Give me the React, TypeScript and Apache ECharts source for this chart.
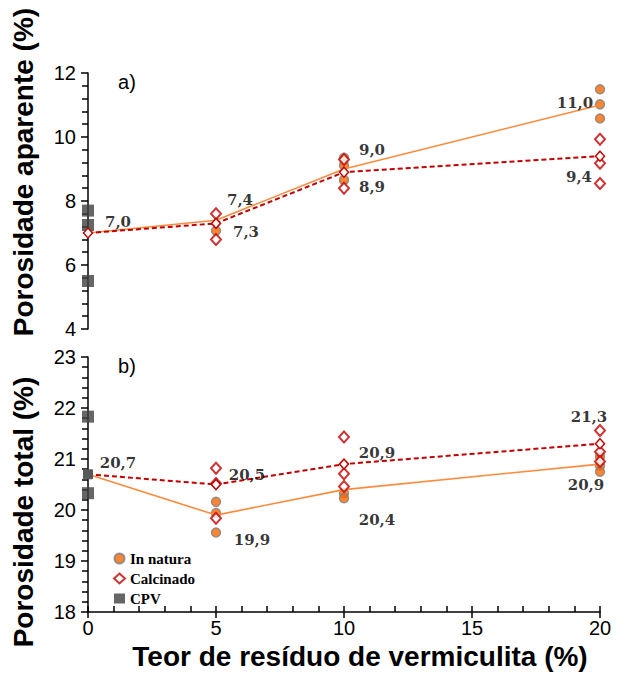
import React, { useEffect, useRef } from "react";
import * as echarts from "echarts";

// ---- Data ----
const xTicks = [0, 5, 10, 15, 20];
const meanX = [0, 5, 10, 20];

// Panel a) Porosidade aparente (%)
const topNaturaMean = [7.0, 7.4, 9.0, 11.0];
const topCalcMean = [7.0, 7.3, 8.9, 9.4];
const topNaturaPts: number[][] = [
  [5, 7.07], [10, 9.35], [10, 9.12], [10, 8.66], [20, 11.49], [20, 11.02], [20, 10.58],
];
const topCalcPts: number[][] = [
  [5, 7.6], [5, 6.8], [10, 9.3], [10, 8.4], [20, 9.93], [20, 9.18], [20, 8.55],
];
const topCpvPts: number[][] = [[0, 7.7], [0, 7.25], [0, 5.5]];

// Panel b) Porosidade total (%)
const botNaturaMean = [20.7, 19.9, 20.4, 20.9];
const botCalcMean = [20.7, 20.5, 20.9, 21.3];
const botNaturaPts: number[][] = [
  [5, 20.16], [5, 19.94], [5, 19.56], [10, 20.33], [10, 20.23], [20, 21.05], [20, 20.87], [20, 20.75],
];
const botCalcPts: number[][] = [
  [5, 20.82], [5, 20.52], [5, 19.84], [10, 21.43], [10, 20.71], [10, 20.46],
  [20, 21.56], [20, 21.14], [20, 20.95],
];
const botCpvPts: number[][] = [[0, 21.83], [0, 20.33]];

const legendNames = ["In natura", "Calcinado", "CPV"];

// label offsets (pixels) – styling only
const topNaturaOff: (number[] | null)[] = [[30, -11], [24, -20], [28, -19], [-25, -2]];
const topCalcOff: (number[] | null)[] = [null, [30, 9], [28, 15], [-21, 21]];
const botNaturaOff: (number[] | null)[] = [[30, -11], [36, 25], [33, 30], [-14, 21]];
const botCalcOff: (number[] | null)[] = [null, [31, -10], [33, -11], [-11, -27]];

const fmt = (v: number) => v.toFixed(1).replace(".", ",");

const ORANGE = "#FF6600";
const ORANGE_LINE = "#FF8A3D";
const RED = "#C00000";
const DARK = "#404040";
const AXIS_FONT = "'Liberation Sans', Arial, sans-serif";

function labelData(means: number[], offs: (number[] | null)[]) {
  const out: any[] = [];
  means.forEach((v, i) => {
    const o = offs[i];
    if (!o) return;
    out.push({
      value: [meanX[i], v],
      label: {
        show: true,
        position: "inside",
        offset: o,
        formatter: fmt(v),
        fontFamily: "'DejaVu Serif', serif",
        fontWeight: "bold",
        fontSize: 15,
        color: "#000",
      },
    });
  });
  return out;
}

function panelSeries(
  idx: number,
  naturaPts: number[][],
  calcPts: number[][],
  cpvPts: number[][],
  naturaMean: number[],
  calcMean: number[],
  naturaOff: (number[] | null)[],
  calcOff: (number[] | null)[],
  firstCalcSymbol: any
) {
  const axes = { xAxisIndex: idx, yAxisIndex: idx };
  const calcLineData: any[] = meanX.map((x, i) => [x, calcMean[i]]);
  if (firstCalcSymbol) calcLineData[0] = { value: calcLineData[0], ...firstCalcSymbol };
  return [
    {
      ...axes,
      name: "In natura",
      type: "scatter",
      symbol: "circle",
      symbolSize: 9,
      itemStyle: { color: ORANGE, borderColor: "#7F7F7F", borderWidth: 1.5 },
      data: naturaPts,
      z: 2,
    },
    {
      ...axes,
      name: "CPV",
      type: "scatter",
      symbol: "rect",
      symbolSize: 12,
      itemStyle: { color: DARK },
      data: cpvPts,
      z: 2,
    },
    {
      ...axes,
      name: "In natura (média)",
      type: "line",
      showSymbol: false,
      symbol: "none",
      lineStyle: { color: ORANGE_LINE, width: 1.6 },
      data: meanX.map((x, i) => [x, naturaMean[i]]),
      z: 3,
    },
    {
      ...axes,
      name: "Calcinado",
      type: "scatter",
      symbol: "diamond",
      symbolSize: [10, 11],
      itemStyle: { color: "#FFFFFF", borderColor: RED, borderWidth: 2 },
      data: calcPts,
      z: 4,
    },
    {
      ...axes,
      name: "Calcinado (média)",
      type: "line",
      symbol: "diamond",
      symbolSize: [9, 10],
      itemStyle: { color: "#FFFFFF", borderColor: RED, borderWidth: 1.5 },
      lineStyle: { color: RED, width: 2, type: [5, 3] },
      data: calcLineData,
      z: 5,
    },
    {
      ...axes,
      name: "rótulos",
      type: "scatter",
      symbolSize: 1,
      silent: true,
      itemStyle: { color: "transparent" },
      data: [...labelData(naturaMean, naturaOff), ...labelData(calcMean, calcOff)],
      z: 10,
    },
  ];
}

export default function App() {
  const ref = useRef<HTMLDivElement>(null);
  useEffect(() => {
    if (!ref.current) return;
    const chart = echarts.init(ref.current, undefined, { renderer: "svg" });
    const axisLine = { show: true, lineStyle: { color: "#000", width: 1.5 } };
    const tick = { show: true, length: 7, inside: false, lineStyle: { color: "#000", width: 1.5 } };
    const minor = { show: true, splitNumber: 5, length: 6, lineStyle: { color: "#000", width: 1.5 } };
    const lbl = { fontSize: 20, color: "#000", fontFamily: AXIS_FONT };
    chart.setOption({
      animation: false,
      backgroundColor: "#FFFFFF",
      grid: [
        { left: 88, top: 73, width: 512, height: 256 },
        { left: 88, top: 357, width: 512, height: 255 },
      ],
      xAxis: [
        { gridIndex: 0, type: "value", min: 0, max: 20, interval: 5, show: false },
        {
          gridIndex: 1,
          type: "value",
          min: 0,
          max: 20,
          interval: 5,
          position: "bottom",
          axisLine,
          axisTick: { ...tick, length: 6 },
          axisLabel: { ...lbl, margin: 6, formatter: (v: number) => (xTicks.includes(v) ? String(v) : "") },
          splitLine: { show: false },
        },
        {
          gridIndex: 1,
          type: "value",
          min: 0,
          max: 20,
          interval: 1,
          position: "bottom",
          axisLine: { show: false },
          axisTick: { show: true, inside: true, length: 6, lineStyle: { color: "#000", width: 1.5 } },
          axisLabel: { show: false },
          splitLine: { show: false },
        },
      ],
      yAxis: [
        {
          gridIndex: 0,
          type: "value",
          min: 4,
          max: 12,
          interval: 2,
          axisLine,
          axisTick: tick,
          minorTick: minor,
          axisLabel: { ...lbl, margin: 12 },
          splitLine: { show: false },
          minorSplitLine: { show: false },
        },
        {
          gridIndex: 1,
          type: "value",
          min: 18,
          max: 23,
          interval: 1,
          axisLine,
          axisTick: tick,
          minorTick: minor,
          axisLabel: { ...lbl, margin: 12 },
          splitLine: { show: false },
          minorSplitLine: { show: false },
        },
      ],
      legend: {
        data: legendNames,
        orient: "vertical",
        left: 108,
        top: 546,
        itemWidth: 11,
        itemHeight: 10,
        itemGap: 5,
        selectedMode: false,
        textStyle: {
          fontFamily: "'Liberation Serif', 'Times New Roman', serif",
          fontWeight: "bold",
          fontSize: 15,
          color: "#000",
        },
      },
      graphic: [
        {
          type: "text",
          x: 127,
          y: 82,
          style: { text: "a)", fontSize: 20, fontFamily: AXIS_FONT, fill: "#000", align: "center", verticalAlign: "middle" },
        },
        {
          type: "text",
          x: 127,
          y: 366,
          style: { text: "b)", fontSize: 20, fontFamily: AXIS_FONT, fill: "#000", align: "center", verticalAlign: "middle" },
        },
        {
          type: "text",
          x: 23,
          y: 172,
          rotation: Math.PI / 2,
          style: {
            text: "Porosidade aparente (%)",
            fontSize: 28,
            fontWeight: "bold",
            fontFamily: AXIS_FONT,
            fill: "#000",
            align: "center",
            verticalAlign: "middle",
          },
        },
        {
          type: "text",
          x: 23,
          y: 512,
          rotation: Math.PI / 2,
          style: {
            text: "Porosidade total (%)",
            fontSize: 28,
            fontWeight: "bold",
            fontFamily: AXIS_FONT,
            fill: "#000",
            align: "center",
            verticalAlign: "middle",
          },
        },
        {
          type: "text",
          x: 360,
          y: 656,
          style: {
            text: "Teor de resíduo de vermiculita (%)",
            fontSize: 28,
            fontWeight: "bold",
            fontFamily: AXIS_FONT,
            fill: "#000",
            align: "center",
            verticalAlign: "middle",
          },
        },
      ],
      series: [
        ...panelSeries(0, topNaturaPts, topCalcPts, topCpvPts, topNaturaMean, topCalcMean, topNaturaOff, topCalcOff, null),
        ...panelSeries(1, botNaturaPts, botCalcPts, botCpvPts, botNaturaMean, botCalcMean, botNaturaOff, botCalcOff, {
          symbol: "rect",
          symbolSize: 9,
          itemStyle: { color: "#595959", borderColor: "#595959", borderWidth: 1 },
        }),
      ],
    });
    return () => chart.dispose();
  }, []);
  return (
    <div
      ref={ref}
      style={{ position: "fixed", left: 0, top: 0, width: 619, height: 681, background: "#fff" }}
    />
  );
}
